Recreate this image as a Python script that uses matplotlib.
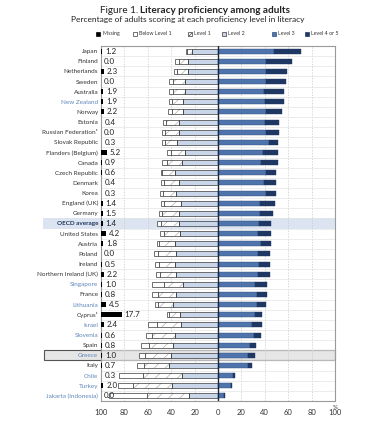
import matplotlib
matplotlib.use("Agg")
import matplotlib.pyplot as plt
import matplotlib.transforms as mtransforms
from matplotlib.patches import Rectangle

# ===============================
# DATA
# ===============================

countries = [
    "Japan", "Finland", "Netherlands", "Sweden", "Australia", "New Zealand",
    "Norway", "Estonia", "Russian Federation\u00b9", "Slovak Republic",
    "Flanders (Belgium)", "Canada", "Czech Republic", "Denmark", "Korea",
    "England (UK)", "Germany", "OECD average", "United States", "Austria",
    "Poland", "Ireland", "Northern Ireland (UK)", "Singapore", "France",
    "Lithuania", "Cyprus\u00b9", "Israel", "Slovenia", "Spain", "Greece",
    "Italy", "Chile", "Turkey", "Jakarta (Indonesia)",
]
round2 = ["New Zealand", "Singapore", "Lithuania", "Israel", "Slovenia",
          "Greece", "Chile", "Turkey", "Jakarta (Indonesia)"]

missing = [1.2, 0.0, 2.3, 0.0, 1.9, 1.9, 2.2, 0.4, 0.0, 0.3, 5.2, 0.9, 0.6,
           0.4, 0.3, 1.4, 1.5, 1.4, 4.2, 1.8, 0.0, 0.5, 2.2, 1.0, 0.8, 4.5,
           17.7, 2.4, 0.6, 0.8, 1.0, 0.7, 0.3, 2.0, 0.0]
below1 = [1.0, 2.7, 3.0, 3.1, 3.1, 3.1, 3.1, 2.6, 2.6, 2.6, 2.9, 3.7, 1.4,
          2.9, 2.3, 3.1, 3.1, 3.3, 3.4, 1.9, 4.0, 3.4, 3.4, 10.3, 5.1, 2.6,
          2.0, 7.7, 5.1, 6.3, 5.4, 6.0, 20.8, 12.6, 32.3]
level1 = [3.8, 8.3, 8.9, 10.0, 10.0, 9.4, 9.7, 11.1, 11.4, 9.7, 11.7, 12.9,
          11.1, 13.1, 10.9, 14.0, 14.6, 15.5, 13.7, 14.0, 14.6, 13.4, 13.7,
          16.3, 16.0, 13.1, 9.7, 20.0, 19.7, 21.1, 21.7, 21.4, 32.9, 32.9,
          36.5]
level2 = [22.6, 25.4, 26.0, 28.6, 28.6, 29.7, 29.7, 33.7, 33.7, 35.4, 28.6,
          31.1, 36.6, 33.1, 36.3, 32.0, 33.1, 33.1, 32.6, 36.6, 36.3, 37.1,
          36.0, 29.7, 35.7, 38.3, 32.3, 32.0, 37.1, 38.3, 40.3, 41.7, 31.1,
          39.7, 24.6]
level3 = [48.0, 40.6, 41.1, 41.1, 39.1, 40.0, 41.1, 40.0, 40.6, 43.7, 38.3,
          36.6, 40.6, 39.1, 40.9, 35.7, 35.7, 34.9, 34.3, 36.6, 34.3, 35.4,
          34.3, 31.4, 33.1, 33.7, 31.4, 28.9, 30.6, 27.4, 25.5, 25.7, 12.5,
          11.5, 4.8]
level45 = [22.9, 22.5, 18.3, 16.6, 17.1, 16.0, 14.0, 12.0, 11.4, 7.7, 12.8,
           14.3, 9.1, 10.6, 8.8, 13.2, 11.2, 10.8, 11.4, 9.1, 10.3, 8.9, 10.0,
           10.9, 8.6, 6.9, 6.0, 8.5, 6.3, 5.2, 6.0, 3.7, 2.0, 0.8, 1.2]

ticks = [-100, -80, -60, -40, -20, 0, 20, 40, 60, 80, 100]

# ===============================
# STYLE
# ===============================

plt.rcParams["font.family"] = ["Lato", "DejaVu Sans"]
plt.rcParams["hatch.linewidth"] = 0.5

c_l2 = "#c9d6ea"
c_l3 = "#4f74ac"
c_l45 = "#1f3763"
c_edge = "#3a3a3a"
c_blue_txt = "#5f86bb"

fig = plt.figure(figsize=(3.75, 4.25), dpi=100)
ax = fig.add_axes([101 / 375, 1 - 401 / 425, 234 / 375, 355 / 425])

y = list(range(len(countries)))
h = 0.5

# row highlights
trans = mtransforms.blended_transform_factory(ax.transAxes, ax.transData)
i_oecd = countries.index("OECD average")
i_gr = countries.index("Greece")
ax.add_patch(Rectangle((-58 / 234, i_oecd - 0.5), 1 + 58 / 234, 1.0,
                       transform=trans, clip_on=False, facecolor="#dbe4f0",
                       edgecolor="none", zorder=0))
ax.add_patch(Rectangle((-57 / 234, i_gr - 0.5), 1 + 57 / 234, 1.0,
                       transform=trans, clip_on=False, facecolor="#e6e6e6",
                       edgecolor="#555555", linewidth=0.8, zorder=0))

# grid
for t in ticks:
    if t not in (-100, 0, 100):
        ax.axvline(t, color="#c8c8c8", lw=0.5, ls=(0, (2, 2)), zorder=0.5)
for k in range(len(countries) - 1):
    ax.axhline(k + 0.5, color="#e4e4e4", lw=0.5, zorder=0.5)

# missing
ax.barh(y, missing, left=-100, height=h, color="black", zorder=3)
for yi, m in zip(y, missing):
    ax.text(-100 + m + 2.5, yi, f"{m:.1f}", va="center", ha="left",
            fontsize=5.8, color="#222222", zorder=4)

# left side levels
l2_left = [-v for v in level2]
l1_left = [-(a + b) for a, b in zip(level1, level2)]
b1_left = [-(a + b + c) for a, b, c in zip(below1, level1, level2)]
ax.barh(y, level2, left=l2_left, height=h, color=c_l2, edgecolor=c_edge,
        linewidth=0.5, zorder=3)
ax.barh(y, level1, left=l1_left, height=h, color="white", edgecolor="#b0b0b0",
        linewidth=0, hatch="///", zorder=3)
ax.barh(y, level1, left=l1_left, height=h, color="none", edgecolor=c_edge,
        linewidth=0.5, zorder=3)
ax.barh(y, below1, left=b1_left, height=h, color="white", edgecolor=c_edge,
        linewidth=0.5, zorder=3)

# right side levels
ax.barh(y, level3, left=0, height=h, color=c_l3, edgecolor="#2f4f80",
        linewidth=0.3, zorder=3)
ax.barh(y, level45, left=level3, height=h, color=c_l45, edgecolor=c_l45,
        linewidth=0.3, zorder=3)

ax.axvline(0, color="#1a2840", lw=1.0, zorder=5)

ax.set_xlim(-100, 100)
ax.set_ylim(len(countries) - 0.5, -0.5)
ax.set_xticks(ticks)
ax.set_xticklabels([str(abs(t)) for t in ticks], fontsize=5.5, color="#333333")
ax.set_yticks(y)
ax.set_yticklabels(countries, fontsize=4.6)
ax.tick_params(axis="both", length=0, pad=2)
ax.tick_params(axis="x", pad=6)
for lab, name in zip(ax.get_yticklabels(), countries):
    if name in round2:
        lab.set_color(c_blue_txt)
    elif name == "OECD average":
        lab.set_color("#1f3763")
        lab.set_fontweight("bold")
    else:
        lab.set_color("#333333")
for s in ax.spines.values():
    s.set_color("#9a9a9a")
    s.set_linewidth(0.8)

ax.text(100, len(countries) + 0.4, "%", ha="center", va="bottom",
        fontsize=4.5, color="#333333", clip_on=False)

# ===============================
# TITLE + LEGEND
# ===============================

fig.text(0.368, 0.985, "Figure 1.", ha="right", va="top", fontsize=7.2,
         color="#222222")
fig.text(0.374, 0.985, "Literacy proficiency among adults", ha="left",
         va="top", fontsize=7.2, fontweight="bold", color="#222222")
fig.text(0.5, 0.962, "Percentage of adults scoring at each proficiency level in literacy",
         ha="center", va="top", fontsize=6.0, color="#222222")

legend_items = [
    (96, "Missing", dict(facecolor="black", edgecolor="black")),
    (133, "Below Level 1", dict(facecolor="white", edgecolor=c_edge)),
    (188, "Level 1", dict(facecolor="white", edgecolor=c_edge, hatch="////")),
    (222, "Level 2", dict(facecolor=c_l2, edgecolor=c_edge)),
    (272, "Level 3", dict(facecolor=c_l3, edgecolor="#2f4f80")),
    (305, "Level 4 or 5", dict(facecolor=c_l45, edgecolor=c_l45)),
]
for px, txt, kw in legend_items:
    fig.patches.append(Rectangle((px / 375, 1 - 35.5 / 425), 4 / 375, 4 / 425,
                                 transform=fig.transFigure, linewidth=0.5,
                                 **kw))
    fig.text((px + 6) / 375, 1 - 33.5 / 425, txt, ha="left", va="center",
             fontsize=3.8, color="#333333")

plt.savefig("out.png", dpi=100)
